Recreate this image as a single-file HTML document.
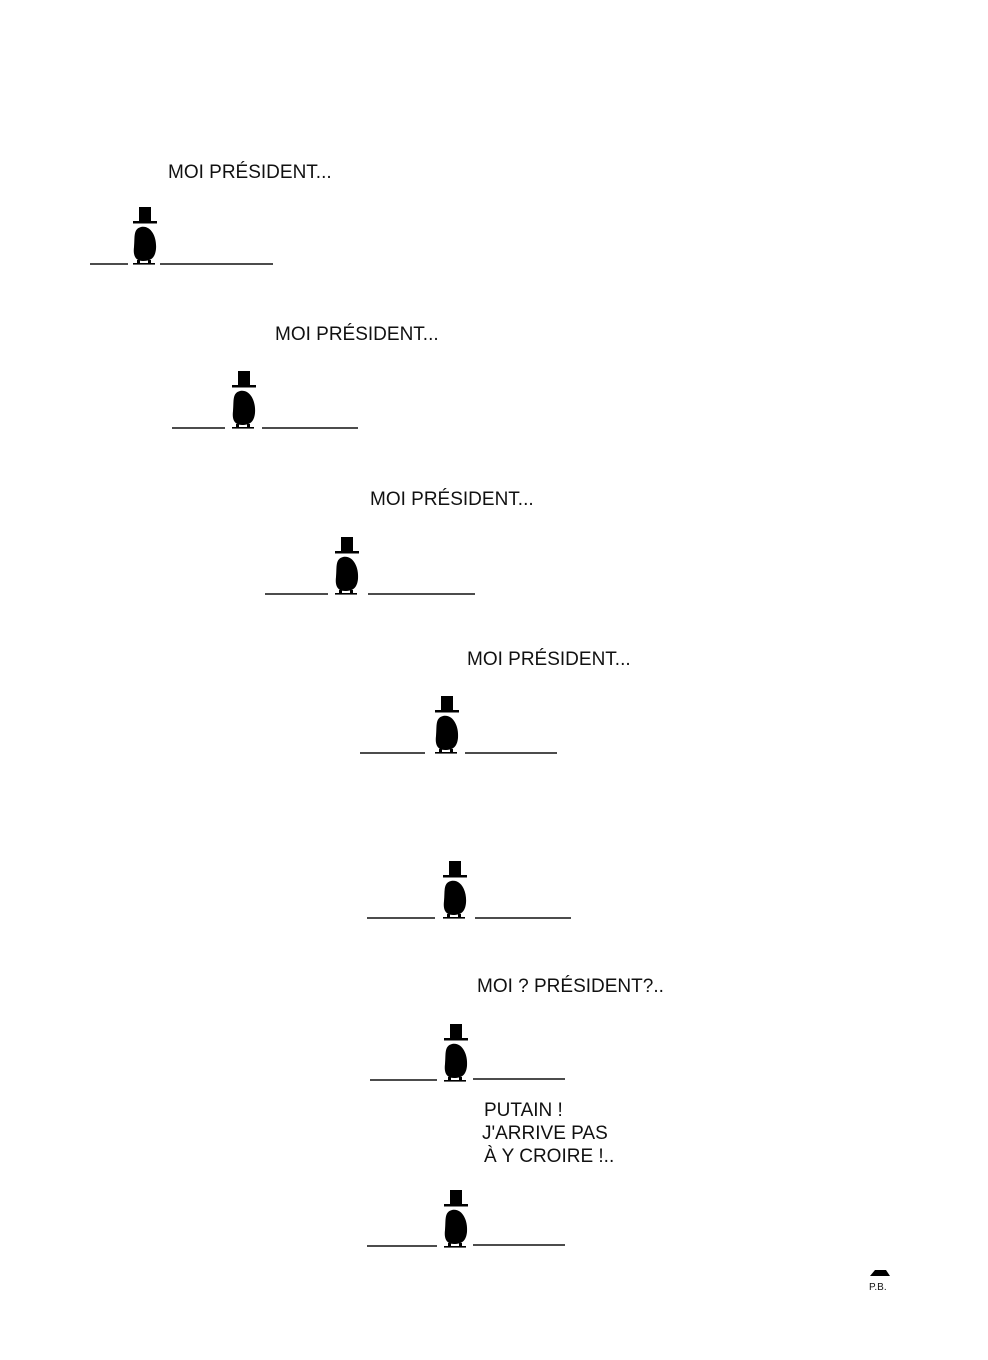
<!DOCTYPE html>
<html><head><meta charset="utf-8"><style>
html,body{margin:0;padding:0;background:#fff}
svg{display:block}
text{font-family:"Liberation Sans",sans-serif;fill:#111}
</style></head><body>
<svg width="988" height="1360" viewBox="0 0 988 1360" xmlns="http://www.w3.org/2000/svg">
<defs>
<g id="fig">
<rect x="-6" y="-56" width="12" height="14" fill="#000"/>
<rect x="-12" y="-42" width="24" height="2.5" fill="#000"/>
<path d="M-4,-36 C6,-38 12,-26 11,-14 C10,-5 6,-2 -2,-2 C-10,-2 -12,-8 -11,-16 C-10,-26 -12,-34 -4,-36 Z" fill="#000"/>
<rect x="-8" y="-3" width="3" height="4" fill="#000"/>
<rect x="3" y="-3" width="3" height="4" fill="#000"/>
<rect x="-12" y="0" width="22" height="1.6" fill="#000"/>
</g>
</defs>
<g stroke="#111" stroke-width="1.6" fill="none">
<path d="M90 264H128M160 264H273"/>
<path d="M172 428H225M262 428H358"/>
<path d="M265 594H328M368 594H475"/>
<path d="M360 753H425M465 753H557"/>
<path d="M367 918H435M475 918H571"/>
<path d="M370 1080H437M473 1079H565"/>
<path d="M367 1246H437M473 1245H565"/>
</g>
<use href="#fig" x="145" y="263"/>
<use href="#fig" x="244" y="427"/>
<use href="#fig" x="347" y="593"/>
<use href="#fig" x="447" y="752"/>
<use href="#fig" x="455" y="917"/>
<use href="#fig" x="456" y="1080"/>
<use href="#fig" x="456" y="1246"/>
<g font-size="19">
<text x="168" y="178">MOI PRÉSIDENT...</text>
<text x="275" y="340">MOI PRÉSIDENT...</text>
<text x="370" y="505">MOI PRÉSIDENT...</text>
<text x="467" y="665">MOI PRÉSIDENT...</text>
<text x="477" y="992">MOI ? PRÉSIDENT?..</text>
<text x="484" y="1116">PUTAIN !</text>
<text x="482" y="1139">J'ARRIVE PAS</text>
<text x="484" y="1162">À Y CROIRE !..</text>
</g>
<path d="M870 1276 L875 1270 L886 1270 L890 1276 Z" fill="#000"/>
<text x="869" y="1290" font-size="10">P.B.</text>
</svg>
</body></html>
